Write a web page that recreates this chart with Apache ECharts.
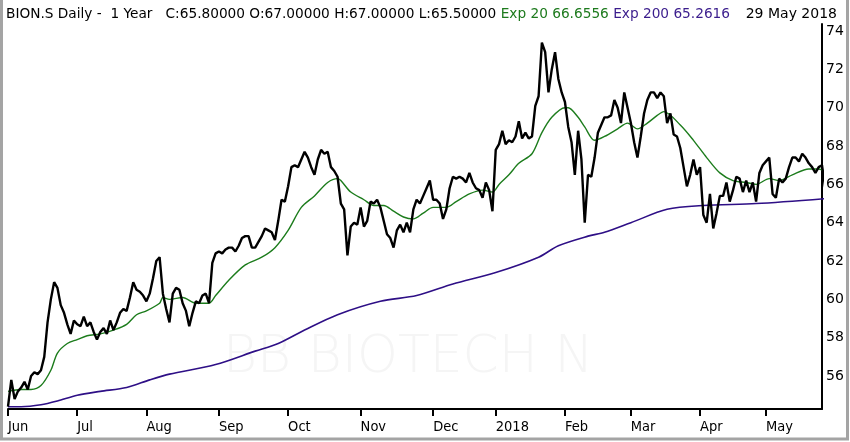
<!DOCTYPE html>
<html>
<head>
<meta charset="utf-8">
<script src="https://cdn.jsdelivr.net/npm/echarts@6/dist/echarts.min.js"></script>
<style>
  html, body { margin: 0; padding: 0; background: #fff; }
  #chart { width: 850px; height: 442px; }
</style>
</head>
<body>
<div id="chart"></div>
<script>
// trading days, 1 Jun 2017 .. 29 May 2018 (SIX holidays skipped)
var firstDay = '2017-06-01'
var lastDay = '2018-05-29'
var holidays = ['2017-06-05', '2017-08-01', '2017-12-25', '2017-12-26', '2018-01-01',
	'2018-01-02', '2018-03-30', '2018-04-02', '2018-05-01', '2018-05-10', '2018-05-21']
var monthNames = ['2018', 'Feb', 'Mar', 'Apr', 'May', 'Jun', 'Jul', 'Aug', 'Sep', 'Oct', 'Nov', 'Dec']

// daily close
var closes = [
	54.4, 55.8, 54.8, 55.2, 55.4, 55.7, 55.3, 56.0, 56.2, 56.1,
	56.3, 57.0, 58.8, 60.0, 60.9, 60.6, 59.7, 59.3, 58.7, 58.2,
	58.9, 58.7, 58.6, 59.1, 58.6, 58.8, 58.3, 57.9, 58.3, 58.5,
	58.2, 58.9, 58.4, 58.8, 59.3, 59.5, 59.4, 60.1, 60.9, 60.5,
	60.4, 60.2, 59.9, 60.3, 61.1, 62.0, 62.2, 60.3, 59.5, 58.8,
	60.3, 60.6, 60.5, 59.8, 59.4, 58.6, 59.3, 59.9, 59.8, 60.2,
	60.3, 59.8, 61.9, 62.4, 62.5, 62.4, 62.6, 62.7, 62.7, 62.5,
	62.8, 63.2, 63.3, 63.3, 62.7, 62.7, 63.0, 63.3, 63.7, 63.6,
	63.5, 63.1, 64.1, 65.2, 65.1, 65.9, 66.9, 67.0, 66.9, 67.3,
	67.7, 67.4, 66.9, 66.5, 67.3, 67.8, 67.6, 67.7, 66.9, 66.7,
	66.4, 65.0, 64.7, 62.3, 63.8, 64.0, 63.9, 64.8, 63.8, 64.1,
	65.1, 65.0, 65.2, 64.8, 64.1, 63.4, 63.2, 62.7, 63.6, 63.9,
	63.5, 64.0, 63.5, 64.7, 65.2, 65.0, 65.4, 65.8, 66.2, 65.2,
	65.2, 65.0, 64.2, 64.7, 65.8, 66.4, 66.3, 66.4, 66.3, 66.1,
	66.6, 66.1, 65.8, 65.7, 65.3, 66.1, 65.7, 64.6, 67.8, 68.1,
	68.8, 68.1, 68.3, 68.2, 68.5, 69.3, 68.4, 68.7, 68.4, 68.5,
	70.1, 70.6, 73.4, 72.9, 70.8, 72.0, 72.9, 71.5, 70.8, 70.3,
	69.0, 68.2, 66.5, 68.8, 67.3, 64.0, 66.5, 66.4, 67.4, 68.7,
	69.1, 69.5, 69.5, 69.6, 70.4, 70.0, 69.2, 70.8, 70.0, 69.2,
	68.2, 67.4, 68.5, 69.7, 70.4, 70.8, 70.8, 70.5, 70.8, 70.6,
	69.2, 69.7, 68.6, 68.5, 67.9, 66.9, 65.9, 66.5, 67.3, 66.5,
	66.9, 64.4, 64.0, 65.5, 63.7, 64.5, 65.4, 65.4, 66.1, 65.1,
	65.7, 66.4, 66.3, 65.6, 66.2, 65.6, 66.1, 65.1, 66.6, 67.0,
	67.2, 67.4, 65.5, 65.3, 66.3, 66.1, 66.3, 66.9, 67.4, 67.4,
	67.2, 67.6, 67.4, 67.1, 66.9, 66.6, 66.9, 67.0, 65.8
]

// Exp 20, read at [trading day index, value]
var exp20 = [
	[0, 55.2], [4, 55.3], [7, 55.3], [10, 55.5], [13, 56.3], [15, 57.2], [18, 57.7],
	[21, 57.9], [24, 58.1], [28, 58.2], [32, 58.4], [36, 58.7], [39, 59.2], [42, 59.4],
	[46, 59.8], [47, 60.1], [49, 60.0], [53, 60.1], [57, 59.8], [61, 59.8], [63, 60.2],
	[67, 61.0], [72, 61.8], [77, 62.2], [81, 62.7], [85, 63.6], [89, 64.8], [93, 65.4],
	[97, 66.1], [100, 66.3], [101, 66.2], [104, 65.6], [108, 65.2], [111, 64.9], [114, 64.9],
	[117, 64.6], [120, 64.3], [123, 64.2], [126, 64.5], [129, 64.8], [133, 64.8], [136, 65.1],
	[140, 65.5], [144, 65.7], [147, 65.6], [149, 66.0], [152, 66.5], [155, 67.1], [159, 67.6],
	[162, 68.7], [165, 69.5], [169, 70.0], [170, 70.0], [173, 69.5], [175, 69.0], [178, 68.3],
	[181, 68.5], [185, 68.9], [188, 69.2], [191, 68.9], [194, 69.2], [197, 69.6], [199, 69.8],
	[204, 69.1], [208, 68.3], [212, 67.4], [216, 66.6], [220, 66.2], [224, 66.1], [227, 66.0],
	[231, 66.3], [234, 66.2], [238, 66.5], [243, 66.8], [246, 66.8], [248, 66.66]
]

// Exp 200
var exp200 = [
	[0, 54.4], [4, 54.4], [10, 54.5], [15, 54.7], [21, 55.0], [28, 55.2], [36, 55.4],
	[43, 55.8], [49, 56.1], [63, 56.6], [75, 57.3], [82, 57.7], [90, 58.4], [100, 59.2],
	[113, 59.9], [124, 60.2], [135, 60.8], [148, 61.4], [161, 62.2], [167, 62.8], [176, 63.3],
	[181, 63.5], [189, 64.0], [200, 64.7], [211, 64.9], [227, 65.0], [248, 65.26]
]

var yLabels = [56, 58, 60, 62, 64, 66, 68, 70, 72, 74]

var header = {
	left: 'BION.S Daily -  1 Year   C:65.80000 O:67.00000 H:67.00000 L:65.50000 ',
	ema20: 'Exp 20 66.6556 ',
	ema200: 'Exp 200 65.2616',
	date: '29 May 2018',
}
var watermark = 'BB BIOTECH N'

var days = []
var d = new Date(firstDay + 'T12:00:00Z')
var end = new Date(lastDay + 'T12:00:00Z')
while (d <= end) {
	var iso = d.toISOString().slice(0, 10)
	var wd = d.getUTCDay()
	if (wd !== 0 && wd !== 6 && holidays.indexOf(iso) < 0) days.push(iso)
	d.setUTCDate(d.getUTCDate() + 1)
}

var isMonthStart = function (i) {
	return i === 0 || days[i].slice(5, 7) !== days[i - 1].slice(5, 7)
}

var chart = echarts.init(document.getElementById('chart'))

var option = {
	animation: false,
	backgroundColor: '#fff',
	grid: { left: 8, right: 28, top: 24, bottom: 33 },
	xAxis: {
		type: 'category',
		data: days,
		boundaryGap: false,
		axisLine: { lineStyle: { color: '#000', width: 2 } },
		axisTick: {
			interval: function (i) { return isMonthStart(i) },
			length: 7,
			lineStyle: { color: '#000', width: 2 },
		},
		axisLabel: {
			interval: function (i) { return isMonthStart(i) },
			formatter: function (v) { return monthNames[parseInt(v.slice(5, 7)) - 1] },
			align: 'left',
			margin: 11,
			color: '#000',
			fontFamily: 'DejaVu Sans Condensed',
			fontSize: 14.5,
		},
		splitLine: { show: false },
	},
	yAxis: {
		type: 'value',
		position: 'right',
		min: 54.28,
		max: 74.37,
		axisLine: { show: true, lineStyle: { color: '#000', width: 2 } },
		axisTick: { show: false },
		axisLabel: {
			customValues: yLabels,
			margin: 4,
			color: '#000',
			fontFamily: 'DejaVu Sans',
			fontSize: 14,
		},
		splitLine: { show: false },
	},
	graphic: [
		{
			type: 'text',
			x: 223,
			y: 358,
			z: -1,
			style: {
				text: watermark,
				verticalAlign: 'middle',
				fontFamily: 'DejaVu Sans',
				fontWeight: 'lighter',
				fontSize: 52,
				fill: '#f5f5f5',
			},
		},
		{
			type: 'text',
			x: 6,
			y: 14,
			style: {
				text: '{a|' + header.left + '}{g|' + header.ema20 + '}{p|' + header.ema200 + '}',
				verticalAlign: 'middle',
				rich: {
					a: { fill: '#000', fontFamily: 'DejaVu Sans', fontSize: 13.7 },
					g: { fill: '#1d7a1d', fontFamily: 'DejaVu Sans', fontSize: 13.7 },
					p: { fill: '#3a1c8c', fontFamily: 'DejaVu Sans', fontSize: 13.7 },
				},
			},
		},
		{
			type: 'text',
			x: 837,
			y: 14,
			style: {
				text: header.date,
				align: 'right',
				verticalAlign: 'middle',
				fill: '#000',
				fontFamily: 'DejaVu Sans',
				fontSize: 14,
			},
		},
		{
			type: 'rect',
			shape: { x: 1.5, y: -10, width: 846, height: 449 },
			style: { fill: 'none', stroke: '#a4a4a4', lineWidth: 3 },
		},
	],
	series: [
		{
			name: 'Exp 200',
			type: 'line',
			data: exp200,
			smooth: 0.3,
			showSymbol: false,
			lineStyle: { color: '#2e0f86', width: 1.6 },
			z: 2,
		},
		{
			name: 'Exp 20',
			type: 'line',
			data: exp20,
			smooth: 0.3,
			showSymbol: false,
			lineStyle: { color: '#1c7c1c', width: 1.4 },
			z: 3,
		},
		{
			name: 'Close',
			type: 'line',
			data: closes,
			showSymbol: false,
			lineStyle: { color: '#000', width: 2.4 },
			z: 4,
		},
	],
}

chart.setOption(option)
</script>
</body>
</html>
